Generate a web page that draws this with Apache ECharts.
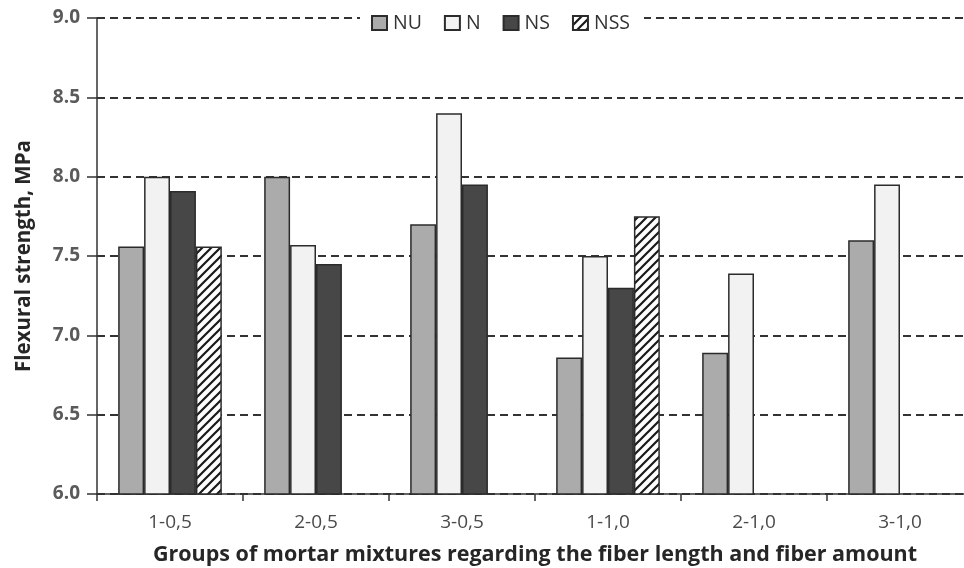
<!DOCTYPE html>
<html>
<head>
<meta charset="utf-8">
<script src="https://cdn.jsdelivr.net/npm/echarts@6/dist/echarts.min.js"></script>
<style>
  html, body { margin: 0; padding: 0; background: #fff; }
  #chart { width: 964px; height: 568px; }
</style>
</head>
<body>
<div id="chart"></div>
<script>
const categories = ['1-0,5', '2-0,5', '3-0,5', '1-1,0', '2-1,0', '3-1,0']
const seriesNames = ['NU', 'N', 'NS', 'NSS']
const nuValues = [7.56, 8.0, 7.7, 6.86, 6.89, 7.6]
const nValues = [8.0, 7.57, 8.4, 7.5, 7.39, 7.95]
const nsValues = [7.91, 7.45, 7.95, 7.3, null, null]
const nssValues = [7.56, null, null, 7.75, null, null]

// hatch tile for NSS
function hatchTile() {
  const s = 9
  const c = document.createElement('canvas')
  c.width = s
  c.height = s
  const ctx = c.getContext('2d')
  ctx.fillStyle = '#fff'
  ctx.fillRect(0, 0, s, s)
  ctx.strokeStyle = '#1a1a1a'
  ctx.lineWidth = 2.2
  ctx.beginPath()
  ctx.moveTo(-1, s + 1)
  ctx.lineTo(s + 1, -1)
  ctx.moveTo(-1, 1)
  ctx.lineTo(1, -1)
  ctx.moveTo(s - 1, s + 1)
  ctx.lineTo(s + 1, s - 1)
  ctx.stroke()
  return c
}

const fontFamily = '"Open Sans", "Noto Sans", sans-serif'
const fills = ['#ababab', '#f2f2f2', '#474747', { image: hatchTile(), repeat: 'repeat' }]
const allValues = [nuValues, nValues, nsValues, nssValues]

const chart = echarts.init(document.getElementById('chart'), null, { renderer: 'canvas' })

const option = {
  backgroundColor: '#fff',
  animation: false,
  textStyle: { fontFamily: fontFamily },
  grid: {
    left: 97,
    right: -9,
    top: 18,
    bottom: 74,
    outerBoundsMode: 'none',
  },
  legend: {
    left: 360,
    top: 11,
    data: seriesNames,
    backgroundColor: '#fff',
    padding: [2, 14, 2, 11],
    itemWidth: 15,
    itemHeight: 14,
    itemGap: 22,
    icon: 'rect',
    textStyle: {
      color: '#333',
      fontSize: 19.5,
      fontFamily: fontFamily,
      padding: [0, 0, 0, 1],
    },
  },
  xAxis: {
    type: 'category',
    data: categories,
    name: 'Groups of mortar mixtures regarding the fiber length and fiber amount',
    nameLocation: 'middle',
    nameGap: 50,
    nameTextStyle: {
      color: '#262626',
      fontSize: 21.5,
      fontWeight: 'bold',
      fontFamily: fontFamily,
    },
    axisLine: {
      show: true,
      lineStyle: { color: '#333', width: 1.5 },
    },
    axisTick: {
      show: true,
      length: 7,
      lineStyle: { color: '#333', width: 1.5 },
    },
    axisLabel: {
      color: '#4a4a4a',
      fontSize: 19,
      margin: 19,
      fontFamily: fontFamily,
    },
  },
  yAxis: {
    type: 'value',
    min: 6,
    max: 9,
    interval: 0.5,
    name: 'Flexural strength, MPa',
    nameLocation: 'middle',
    nameGap: 62,
    nameTextStyle: {
      color: '#262626',
      fontSize: 20.5,
      fontWeight: 'bold',
      fontFamily: fontFamily,
    },
    axisLine: {
      show: true,
      lineStyle: { color: '#333', width: 1.5 },
    },
    axisTick: {
      show: true,
      inside: false,
      length: 10,
      lineStyle: { color: '#333', width: 1.5 },
    },
    axisLabel: {
      color: '#5a5a5a',
      fontSize: 19,
      fontWeight: 'bold',
      margin: 17,
      fontFamily: fontFamily,
      formatter: function (v) {
        return v.toFixed(1)
      },
    },
    splitLine: {
      show: true,
      lineStyle: { color: '#333', width: 2, type: [8, 5] },
    },
  },
  series: seriesNames.map(function (name, i) {
    return {
      name: name,
      type: 'bar',
      data: allValues[i],
      barGap: '0%',
      barCategoryGap: '29%',
      itemStyle: {
        color: fills[i],
        borderColor: '#2b2b2b',
        borderWidth: 1.5,
      },
    }
  }),
}

chart.setOption(option)
</script>
</body>
</html>
